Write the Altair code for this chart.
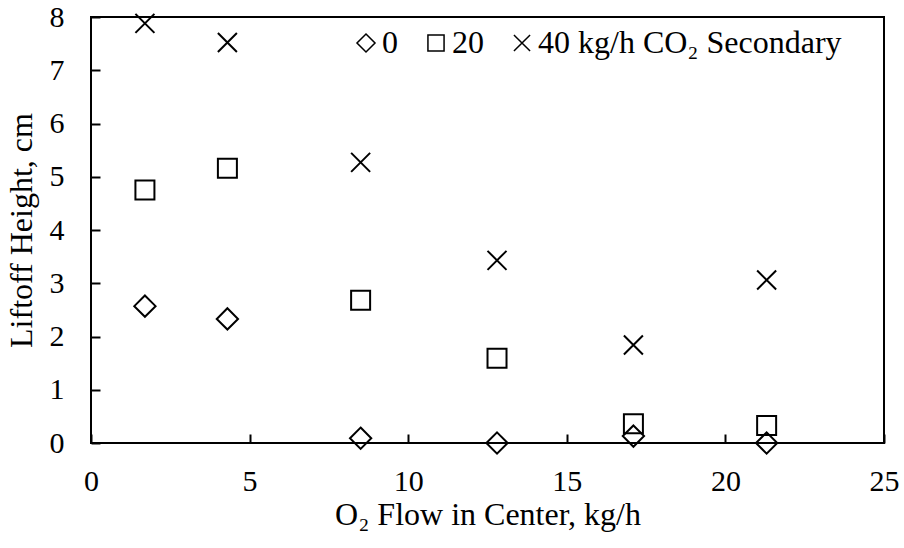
import altair as alt
import pandas as pd

# ---- data ----
flow = [1.7, 4.3, 8.5, 12.8, 17.1, 21.3]          # O2 flow in center, kg/h
h_co2_0 = [2.57, 2.33, 0.09, 0.0, 0.13, 0.0]      # liftoff height, 0 kg/h CO2
h_co2_20 = [4.75, 5.16, 2.68, 1.59, 0.36, 0.33]   # 20 kg/h CO2
h_co2_40 = [7.88, 7.52, 5.27, 3.43, 1.84, 3.06]   # 40 kg/h CO2
series = ["0", "20", "40"]
x_ticks = [0, 5, 10, 15, 20, 25]
y_ticks = [0, 1, 2, 3, 4, 5, 6, 7, 8]

rows = []
for name, vals in zip(series, [h_co2_0, h_co2_20, h_co2_40]):
    for xv, yv in zip(flow, vals):
        rows.append({"flow": xv, "height": yv, "series": name})
df = pd.DataFrame(rows)

FONT = "Liberation Serif"
FS = 30
TFS = 32
DIAMOND = "M0,-1.12L1.12,0L0,1.12L-1.12,0Z"
SQUARE = "M-1,-1L1,-1L1,1L-1,1Z"
XPATH = "M-1,-1L1,1M-1,1L1,-1"

x_scale = alt.Scale(domain=[0, 25], nice=False, zero=False)
y_scale = alt.Scale(domain=[0, 8], nice=False, zero=False)

points = alt.Chart(df).mark_point(filled=False, color="black", strokeWidth=2, opacity=1, size=361).encode(
    x=alt.X("flow:Q", scale=x_scale,
            axis=alt.Axis(orient="bottom", values=x_ticks, title="O₂ Flow in Center, kg/h",
                          ticks=False, tickSize=0, domain=False, grid=False, labelFlush=False,
                          labelFont=FONT, labelFontSize=FS, labelColor="black", labelPadding=23,
                          titleFont=FONT, titleFontSize=TFS, titleFontWeight="normal",
                          titleColor="black", titlePadding=3)),
    y=alt.Y("height:Q", scale=y_scale,
            axis=alt.Axis(orient="left", values=y_ticks, title="Liftoff Height, cm",
                          ticks=False, tickSize=0, domain=False, grid=False, labelFlush=False,
                          labelFont=FONT, labelFontSize=FS, labelColor="black", labelPadding=27,
                          titleFont=FONT, titleFontSize=TFS, titleFontWeight="normal",
                          titleColor="black", titlePadding=11)),
    shape=alt.Shape("series:N",
                    scale=alt.Scale(domain=series, range=[DIAMOND, SQUARE, XPATH]),
                    legend=alt.Legend(orient="none", direction="horizontal", legendX=259, legendY=10,
                                      title="kg/h CO₂ Secondary", titleOrient="right",
                                      titleLimit=500, labelLimit=200,
                                      titleFont=FONT, titleFontSize=32, titleFontWeight="normal",
                                      titleColor="black", titlePadding=8,
                                      labelFont=FONT, labelFontSize=32, labelColor="black",
                                      labelOffset=0, columnPadding=22,
                                      symbolSize=260, symbolStrokeWidth=1.5,
                                      symbolStrokeColor="black", symbolFillColor="transparent")),
)

# inward tick marks (axes pushed inside the plot by their tick length)
ticks = alt.Chart(df).mark_point(opacity=0).encode(
    x=alt.X("flow:Q", scale=x_scale,
            axis=alt.Axis(orient="bottom", values=x_ticks, offset=-9, tickSize=9, tickWidth=2,
                          tickColor="black", labels=False, domain=False, grid=False, title=None)),
    y=alt.Y("height:Q", scale=y_scale,
            axis=alt.Axis(orient="left", values=y_ticks, offset=-9, tickSize=9, tickWidth=2,
                          tickColor="black", labels=False, domain=False, grid=False, title=None)),
)

chart = alt.layer(points, ticks).resolve_axis(x="independent", y="independent").properties(
    width=793, height=426,
    autosize=alt.AutoSizeParams(type="none"),
    padding={"left": 91, "top": 17, "right": 20, "bottom": 105},
    background="white",
).configure_view(stroke="black", strokeWidth=2)

chart.save("out.html", embed_options={"renderer": "svg", "actions": False})
